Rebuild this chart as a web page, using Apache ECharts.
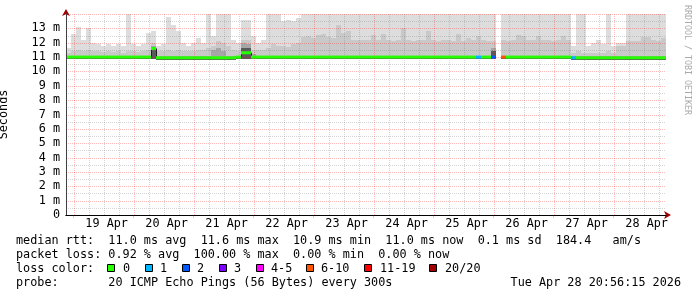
<!DOCTYPE html>
<html><head><meta charset="utf-8">
<script src="https://cdn.jsdelivr.net/npm/echarts@6/dist/echarts.min.js"></script>
<style>html,body{margin:0;padding:0;background:#fff}#c{width:697px;height:297px}</style>
</head><body><div id="c"></div>
<script>
// ---- data (hours measured from 18 Apr 00:00; one column = 2 h) ----
const startHour = 20 + 56 / 60 + 15 / 3600;   // 18 Apr 20:56:15
const spanHours = 240;                          // last 10 days
const stepHours = 2;
const dayLabels = ['19 Apr','20 Apr','21 Apr','22 Apr','23 Apr','24 Apr','25 Apr','26 Apr','27 Apr','28 Apr'];
const yTickLabels = ['0','1 m','2 m','3 m','4 m','5 m','6 m','7 m','8 m','9 m','10 m','11 m','12 m','13 m'];

// outer smoke (max ping) in ms
const smokeMax = [
 11.6,12.6,13.1,12.2,13.0,12.0,11.9,11.8,11.9,11.8,
 11.9,11.8,14.0,11.9,11.8,11.9,12.7,12.8,11.8,11.9,
 13.8,13.2,12.8,12.0,11.8,12.0,12.3,12.0,14.0,12.5,
 14.0,14.0,14.0,12.2,12.0,13.6,13.6,12.5,12.0,12.2,
 14.0,14.0,14.0,13.5,13.6,13.5,13.7,14.0,14.0,14.0,
 14.0,14.0,14.0,14.0,14.0,14.0,14.0,14.0,14.0,14.0,
 14.0,14.0,14.0,14.0,14.0,14.0,14.0,14.0,14.0,14.0,
 14.0,14.0,14.0,14.0,14.0,14.0,14.0,14.0,14.0,14.0,
 14.0,14.0,14.0,14.0,14.0,14.0,null,14.0,14.0,14.0,
 14.0,14.0,14.0,14.0,14.0,14.0,14.0,14.0,14.0,14.0,
 14.0,11.8,14.0,14.0,11.8,12.0,12.2,11.9,14.0,11.8,
 12.0,12.0,14.0,14.0,14.0,14.0,14.0,14.0,14.0,14.0
];
// middle smoke in ms
const smokeMid = [
 11.3,11.4,11.5,11.4,11.5,11.4,11.4,11.35,11.4,11.35,
 11.4,11.3,11.4,11.4,11.35,11.4,11.5,12.0,11.4,11.4,
 11.5,11.4,11.5,11.4,11.4,11.45,11.5,11.5,11.6,11.8,
 12.1,12.0,11.8,11.5,11.4,12.2,12.2,11.5,11.5,11.5,
 11.6,11.9,11.8,11.8,11.7,11.9,12.0,12.4,12.45,12.3,
 12.55,12.6,12.4,12.3,13.2,12.7,12.8,12.2,12.2,12.2,
 12.2,12.55,12.2,12.6,12.2,12.15,12.2,13.0,12.2,12.15,
 12.2,12.2,12.8,12.2,12.15,12.2,12.2,12.15,12.6,12.1,
 12.3,12.2,12.5,12.2,12.15,12.1,null,12.2,12.15,12.2,
 12.55,12.5,12.2,12.2,12.5,12.2,12.2,12.15,12.2,12.5,
 12.2,11.3,11.4,11.3,11.3,11.3,11.3,11.3,11.4,11.3,
 11.8,11.8,12.1,12.1,12.1,12.4,12.4,12.2,12.1,12.3
];
// inner (dark) smoke in ms
const smokeDark = [
 11.05,11.05,11.05,11.05,11.05,11.05,11.05,11.05,11.05,11.05,
 11.05,11.05,11.05,11.05,11.05,11.05,11.05,11.8,11.05,11.05,
 11.05,11.05,11.05,11.05,11.05,11.05,11.05,11.05,11.05,11.5,
 11.6,11.4,11.05,11.05,11.05,12.0,11.9,11.2,11.05,11.05,
 11.05,11.05,11.05,11.05,11.05,11.05,11.05,11.05,11.05,11.05,
 11.05,11.05,11.05,11.05,11.05,11.05,11.05,11.05,11.05,11.05,
 11.05,11.05,11.05,11.05,11.05,11.05,11.05,11.05,11.05,11.05,
 11.05,11.05,11.05,11.05,11.05,11.05,11.05,11.05,11.05,11.05,
 11.05,11.05,11.05,11.05,11.05,11.6,null,11.05,11.05,11.05,
 11.05,11.05,11.05,11.05,11.05,11.05,11.05,11.05,11.05,11.05,
 11.05,11.05,11.05,11.05,11.05,11.05,11.05,11.05,11.05,11.05,
 11.05,11.05,11.05,11.05,11.05,11.05,11.05,11.05,11.05,11.05
];
// core (darkest) smoke in ms
const smokeCore = [
 11.0,11.0,11.0,11.0,11.0,11.0,11.0,11.0,11.0,11.0,
 11.0,11.0,11.0,11.0,11.0,11.0,11.0,11.55,11.0,11.0,
 11.0,11.0,11.0,11.0,11.0,11.0,11.0,11.0,11.0,11.0,
 11.0,11.0,11.0,11.0,11.0,11.65,11.6,11.0,11.0,11.0,
 11.0,11.0,11.0,11.0,11.0,11.0,11.0,11.0,11.0,11.0,
 11.0,11.0,11.0,11.0,11.0,11.0,11.0,11.0,11.0,11.0,
 11.0,11.0,11.0,11.0,11.0,11.0,11.0,11.0,11.0,11.0,
 11.0,11.0,11.0,11.0,11.0,11.0,11.0,11.0,11.0,11.0,
 11.0,11.0,11.0,11.0,11.0,11.4,null,11.0,11.0,11.0,
 11.0,11.0,11.0,11.0,11.0,11.0,11.0,11.0,11.0,11.0,
 11.0,11.0,11.0,11.0,11.0,11.0,11.0,11.0,11.0,11.0,
 11.0,11.0,11.0,11.0,11.0,11.0,11.0,11.0,11.0,11.0
];
// min ping in ms
const smokeMin = [
 10.85,10.85,10.85,10.85,10.85,10.85,10.85,10.85,10.85,10.85,
 10.85,10.85,10.85,10.85,10.85,10.85,10.85,10.9,10.8,10.8,
 10.8,10.8,10.8,10.8,10.8,10.8,10.8,10.8,10.8,10.8,
 10.8,10.8,10.8,10.8,10.85,10.9,10.9,10.85,10.85,10.85,
 10.85,10.85,10.85,10.85,10.85,10.85,10.85,10.85,10.85,10.85,
 10.85,10.85,10.85,10.85,10.85,10.85,10.85,10.85,10.85,10.85,
 10.85,10.85,10.85,10.85,10.85,10.85,10.85,10.85,10.85,10.85,
 10.85,10.85,10.85,10.85,10.85,10.85,10.85,10.85,10.85,10.85,
 10.85,10.85,10.85,10.85,10.85,10.85,null,10.85,10.85,10.85,
 10.85,10.85,10.85,10.85,10.85,10.85,10.85,10.85,10.85,10.85,
 10.85,10.8,10.8,10.8,10.8,10.8,10.8,10.8,10.8,10.8,
 10.8,10.8,10.8,10.8,10.8,10.8,10.8,10.8,10.8,10.8
];
// median rtt in ms
const medianRtt = [
 11.0,11.0,11.0,11.0,11.0,11.0,11.0,11.0,11.0,11.0,
 11.0,11.0,11.0,11.0,11.0,11.0,11.0,11.6,10.95,10.95,
 10.95,10.95,10.95,10.95,10.95,10.95,10.95,10.95,10.95,10.95,
 10.95,10.95,10.95,10.95,11.0,11.3,11.3,11.0,11.0,11.0,
 11.0,11.0,11.0,11.0,11.0,11.0,11.0,11.0,11.0,11.0,
 11.0,11.0,11.0,11.0,11.0,11.0,11.0,11.0,11.0,11.0,
 11.0,11.0,11.0,11.0,11.0,11.0,11.0,11.0,11.0,11.0,
 11.0,11.0,11.0,11.0,11.0,11.0,11.0,11.0,11.0,11.0,
 11.0,11.0,11.0,11.0,11.0,11.0,null,11.0,11.0,11.0,
 11.0,11.0,11.0,11.0,11.0,11.0,11.0,11.0,11.0,11.0,
 11.0,10.95,10.95,10.95,10.95,10.95,10.95,10.95,10.95,10.95,
 10.95,10.95,10.95,10.95,10.95,10.95,10.95,10.95,10.95,10.95
];
// lost pings out of 20
const lostPings = [
 0,0,0,0,0,0,0,0,0,0, 0,0,0,0,0,0,0,0,0,0,
 0,0,0,0,0,0,0,0,0,0, 0,0,0,0,0,0,0,0,0,0,
 0,0,0,0,0,0,0,0,0,0, 0,0,0,0,0,0,0,0,0,0,
 0,0,0,0,0,0,0,0,0,0, 0,0,0,0,0,0,0,0,0,0,
 0,0,1,0,0,2,20,8,0,0, 0,0,0,0,0,0,0,0,0,0,
 0,1,0,0,0,0,0,0,0,0, 0,0,0,0,0,0,0,0,0,0
];
const lossLabels = ['0','1','2','3','4-5','6-10','11-19','20/20'];
const lossUpper  = [0, 1, 2, 3, 5, 10, 19, 20];
const lossColors = ['#26ff00','#00b8ff','#0059ff','#7e00ff','#ff00ff','#ff5500','#ff0000','#a10000'];

const statLines = [
 'median rtt:  11.0 ms avg  11.6 ms max  10.9 ms min  11.0 ms now  0.1 ms sd  184.4   am/s',
 'packet loss: 0.92 % avg  100.00 % max  0.00 % min  0.00 % now'
];
const lossTitle = 'loss color:';
const probeLine = 'probe:       20 ICMP Echo Pings (56 Bytes) every 300s';
const stampText = 'Tue Apr 28 20:56:15 2026';
const watermark = 'RRDTOOL / TOBI OETIKER';

// ---- layout / style ----
const MONO = '"DejaVu Sans Mono", monospace';
const FS = 11.8;
const endHour = startHour + spanHours;
const minorColor = 'rgba(120,120,120,0.32)';
const majorColor = 'rgba(255,0,0,0.27)';

function lossColor(n){ for (let k=0;k<lossUpper.length;k++) if (n<=lossUpper[k]) return lossColors[k]; return lossColors[lossColors.length-1]; }

function band(name, arr, color, z){
  const data=[];
  arr.forEach((v,i)=>{ if(v==null||smokeMin[i]==null) return;
    data.push([startHour+i*stepHours, startHour+(i+1)*stepHours, smokeMin[i], v]); });
  return {type:'custom', name, z, data, clip:true, silent:true, encode:{x:[0,1], y:[2,3]},
    renderItem(params, api){
      const a=api.coord([api.value(0), api.value(3)]);
      const b=api.coord([api.value(1), api.value(2)]);
      const x0=Math.round(a[0]), x1=Math.round(b[0]), y0=Math.round(a[1]), y1=Math.round(b[1]);
      return {type:'rect', shape:{x:x0,y:y0,width:x1-x0,height:y1-y0}, style:{fill:color}};
    }};
}

const medData=[];
medianRtt.forEach((v,i)=>{ if(v==null) return;
  const prev = (i>0 && medianRtt[i-1]!=null) ? medianRtt[i-1] : v;
  medData.push([startHour+i*stepHours, startHour+(i+1)*stepHours, v, prev, lostPings[i]]); });

const xGrid=[]; for(let h=24; h<endHour; h+=6) xGrid.push([h, h%24===0?1:0]);
const yGrid=[]; for(let v=0.5; v<=14; v+=0.5) yGrid.push([startHour+1, v, Number.isInteger(v)?1:0]);
const midnights = xGrid.filter(d=>d[1]===1).map(d=>d[0]);
const noons = dayLabels.map((_,k)=>36+24*k);

const chart = echarts.init(document.getElementById('c'), null, {renderer:'canvas'});
chart.setOption({
  animation:false,
  backgroundColor:'#fff',
  grid:{left:66, top:14, width:600, height:201, containLabel:false, outerBoundsMode:'none'},
  xAxis:[{
    type:'value', min:startHour, max:endHour, z:10,
    axisLine:{show:true, lineStyle:{color:'#000', width:1}},
    axisTick:{show:true, customValues:midnights, length:3, lineStyle:{color:majorColor}},
    axisLabel:{show:true, customValues:noons, margin:3, padding:[0,0,0,6],
      fontFamily:MONO, fontSize:FS, color:'#000',
      formatter:v=>dayLabels[Math.round((v-36)/24)]},
    splitLine:{show:false}
  },{
    type:'value', min:startHour, max:endHour, z:9, position:'bottom',
    axisLine:{show:true, symbol:['none','arrow'], symbolSize:[6,7], symbolOffset:[0,5], lineStyle:{color:'#a00000', width:1}},
    axisTick:{show:false}, axisLabel:{show:false}, splitLine:{show:false}
  }],
  yAxis:[{
    type:'value', min:0, max:14, interval:1, z:10,
    name:'Seconds', nameLocation:'middle', nameGap:56, nameRotate:90,
    nameTextStyle:{fontFamily:MONO, fontSize:FS, color:'#000'},
    axisLine:{show:true, lineStyle:{color:'#404040', width:1}},
    axisTick:{show:false},
    axisLabel:{show:true, margin:6, fontFamily:MONO, fontSize:FS, color:'#000',
      formatter:v=>(v<yTickLabels.length? yTickLabels[v] : '')},
    splitLine:{show:false}
  },{
    type:'value', min:0, max:14, interval:1, z:9, position:'left',
    axisLine:{show:true, symbol:['none','arrow'], symbolSize:[6,7], symbolOffset:[0,5], lineStyle:{color:'#a00000', width:1}},
    axisTick:{show:false}, axisLabel:{show:false}, splitLine:{show:false}
  }],
  series:[
    band('max', smokeMax, '#dddddd', 2),
    band('mid', smokeMid, '#c9c9c9', 2),
    band('dark', smokeDark, '#a6a6a6', 2),
    band('core', smokeCore, '#5a5a5a', 2),
    {type:'custom', name:'xgrid', z:3, silent:true, clip:false, data:xGrid, encode:{x:0, y:1},
      renderItem(params, api){
        const cs=params.coordSys; const x=Math.round(api.coord([api.value(0),0])[0])+0.5;
        return {type:'line', shape:{x1:x,y1:cs.y,x2:x,y2:cs.y+cs.height},
          style:{stroke: api.value(1)?majorColor:minorColor, lineWidth:1, lineDash:[1,1]}};
      }},
    {type:'custom', name:'ygrid', z:3, silent:true, clip:false, data:yGrid, encode:{x:0, y:1},
      renderItem(params, api){
        const cs=params.coordSys; const y=Math.round(api.coord([api.value(0),api.value(1)])[1])+0.5;
        return {type:'line', shape:{x1:cs.x,y1:y,x2:cs.x+cs.width,y2:y},
          style:{stroke: api.value(2)?majorColor:minorColor, lineWidth:1, lineDash:[1,1]}};
      }},
    {type:'custom', name:'median', z:5, silent:true, clip:true, data:medData, encode:{x:[0,1], y:2},
      renderItem(params, api){
        const a=api.coord([api.value(0), api.value(2)]);
        const b=api.coord([api.value(1), api.value(2)]);
        const p=api.coord([api.value(0), api.value(3)]);
        const xa=Math.round(a[0]), xb=Math.round(b[0]);
        return {type:'group', children:[
          {type:'line', shape:{x1:xa+0.5,y1:p[1],x2:xa+0.5,y2:a[1]}, style:{stroke:'#202020', lineWidth:1}},
          {type:'line', shape:{x1:xa,y1:a[1],x2:xb,y2:b[1]}, style:{stroke:lossColor(api.value(4)), lineWidth:3}}
        ]};
      }}
  ],
  graphic:(function(){
    const g=[];
    const font = FS+'px '+MONO;
    const rows=[241,255,269,283];
    g.push({type:'text', x:16, y:rows[0], style:{text:statLines[0], font, fill:'#000', verticalAlign:'middle'}});
    g.push({type:'text', x:16, y:rows[1], style:{text:statLines[1], font, fill:'#000', verticalAlign:'middle'}});
    g.push({type:'text', x:16, y:rows[2], style:{text:lossTitle, font, fill:'#000', verticalAlign:'middle'}});
    const boxX=[108,146,183,220,257,307,365,430];
    const labX=[123,160,197,234,271,321,380,445];
    lossLabels.forEach((lab,k)=>{
      g.push({type:'rect', shape:{x:boxX[k]-0.5, y:264.5, width:7, height:7}, style:{fill:lossColors[k], stroke:'#000', lineWidth:1}});
      g.push({type:'text', x:labX[k], y:rows[2], style:{text:lab, font, fill:'#000', verticalAlign:'middle'}});
    });
    g.push({type:'text', x:16, y:rows[3], style:{text:probeLine, font, fill:'#000', verticalAlign:'middle'}});
    g.push({type:'text', x:681, y:rows[3], style:{text:stampText, font, fill:'#000', align:'right', verticalAlign:'middle'}});
    g.push({type:'text', x:687, y:5, rotation:-Math.PI/2, style:{text:watermark, font:'8.3px '+MONO, fill:'#aaaaaa', verticalAlign:'middle'}});
    return g;
  })()
});
</script></body></html>
